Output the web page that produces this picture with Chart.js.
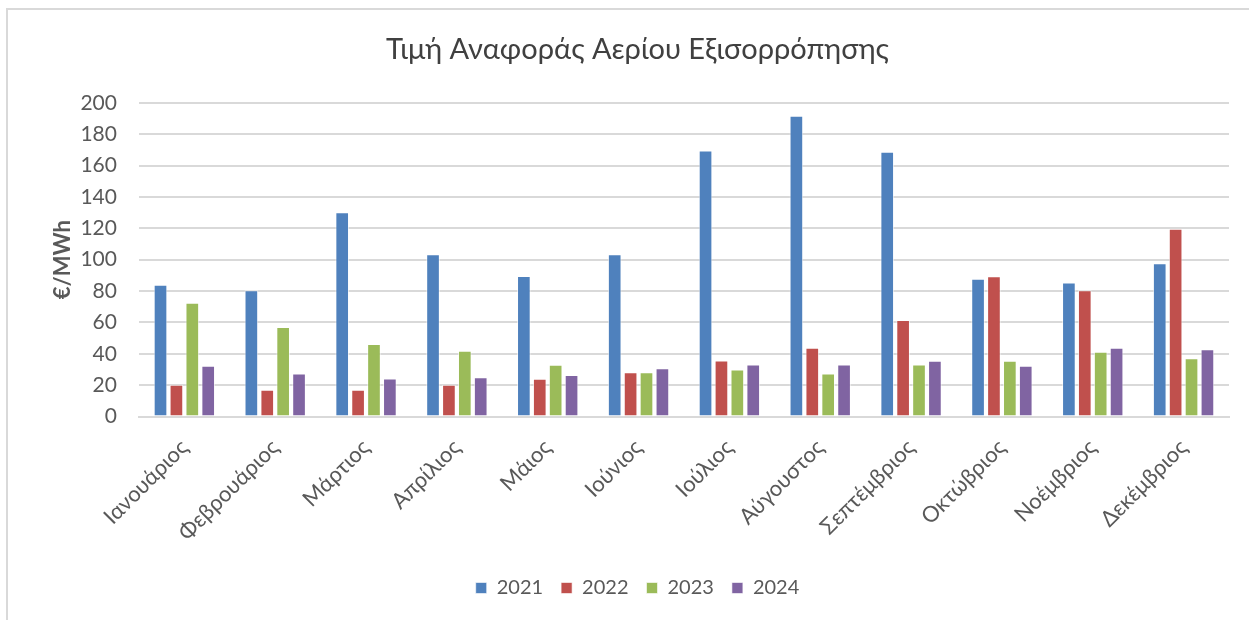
<!DOCTYPE html>
<html>
<head>
<meta charset="utf-8">
<script src="https://cdn.jsdelivr.net/npm/chart.js@4"></script>
<style>
  html, body { margin: 0; padding: 0; background: #fff; }
  #frame {
    position: absolute; left: 6px; top: 8px; width: 1260px; height: 640px;
    border-left: 2px solid #d9d9d9; border-top: 2px solid #d9d9d9;
  }
  #chart { position: absolute; left: 0; top: 0; }
</style>
</head>
<body>
<div id="frame"></div>
<canvas id="chart" width="1249" height="620"></canvas>
<script>
// Μήνες και τιμές (€/MWh) ανά έτος
const months = ["Ιανουάριος", "Φεβρουάριος", "Μάρτιος", "Απρίλιος", "Μάιος", "Ιούνιος",
                "Ιούλιος", "Αύγουστος", "Σεπτέμβριος", "Οκτώβριος", "Νοέμβριος", "Δεκέμβριος"];
const years = ["2021", "2022", "2023", "2024"];
const values2021 = [84, 80.5, 130.3, 103.5, 89.6, 103.5, 169.6, 191.7, 168.8, 87.8, 85.4, 97.7];
const values2022 = [20.2, 17, 17, 20.2, 24, 28.2, 35.7, 43.8, 61.6, 89.5, 80.5, 119.7];
const values2023 = [72.5, 57, 46.3, 42, 33, 28.2, 30, 27.4, 33.1, 35.5, 41.3, 37.2];
const values2024 = [32.3, 27.4, 24.2, 25.1, 26.5, 30.8, 33.2, 33.2, 35.5, 32.3, 43.8, 42.9];
const colors = ["#4F81BD", "#C0504D", "#9BBB59", "#8064A2"];

const series = [values2021, values2022, values2023, values2024];
const textColor = "#595959";
const fontFamily = "Lato, 'Noto Sans', sans-serif";

const ctx = document.getElementById('chart').getContext('2d');
new Chart(ctx, {
    type: 'bar',
    data: {
        labels: months,
        datasets: series.map((data, i) => ({
            label: years[i],
            data: data,
            backgroundColor: colors[i],
            borderColor: 'rgba(255,255,255,0.6)',
            borderWidth: 1,
            categoryPercentage: 0.7,
            barPercentage: 0.86
        }))
    },
    options: {
        responsive: false,
        animation: false,
        layout: { padding: { left: 46, right: 20, top: 22, bottom: 12 } },
        plugins: {
            title: {
                display: true,
                text: 'Τιμή Αναφοράς Αερίου Εξισορρόπησης',
                color: '#404040',
                font: { family: fontFamily, size: 29, weight: 'normal' },
                padding: { top: 10, bottom: 36 }
            },
            legend: {
                position: 'bottom',
                labels: {
                    color: textColor,
                    font: { family: fontFamily, size: 20 },
                    boxWidth: 11,
                    boxHeight: 11,
                    padding: 18
                }
            },
            tooltip: { enabled: false }
        },
        scales: {
            x: {
                grid: { display: false },
                border: { color: '#d9d9d9', width: 2 },
                ticks: {
                    color: textColor,
                    font: { family: fontFamily, size: 22 },
                    minRotation: 45,
                    maxRotation: 45,
                    padding: 10
                },
                afterFit(scale) { scale.height += 4; }
            },
            y: {
                min: 0,
                max: 200,
                ticks: {
                    stepSize: 20,
                    color: textColor,
                    font: { family: fontFamily, size: 21 },
                    padding: 22
                },
                grid: { color: '#d9d9d9', lineWidth: 2, drawTicks: false },
                border: { display: false },
                title: {
                    display: true,
                    text: '€/MWh',
                    color: textColor,
                    font: { family: fontFamily, size: 22, weight: 'bold' },
                    padding: { bottom: 0 }
                },
                afterFit(scale) { scale.width -= 18; }
            }
        }
    }
});
</script>
</body>
</html>
